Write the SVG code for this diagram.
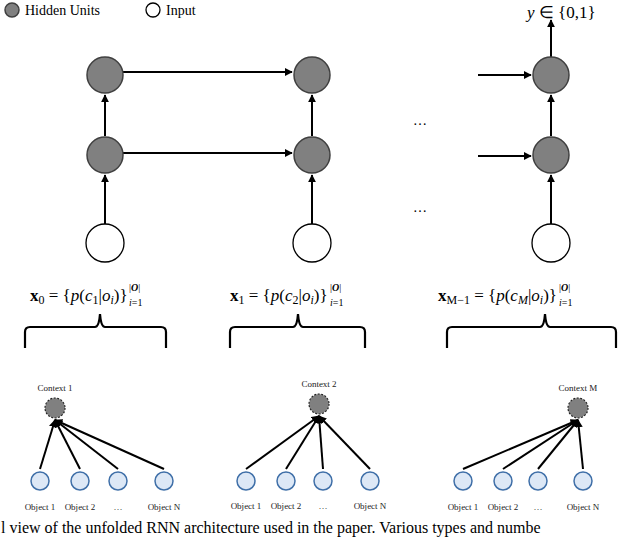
<svg xmlns="http://www.w3.org/2000/svg" width="640" height="537" viewBox="0 0 640 537">
<style>
.h{fill:#808080;stroke:#404040;stroke-width:1.5}
.i{fill:#fff;stroke:#000;stroke-width:1.3}
.c{fill:#808080;stroke:#222;stroke-width:1.2;stroke-dasharray:2 1.5}
.o{fill:#dde8f6;stroke:#3f6fa8;stroke-width:1.5}
.e{stroke:#000;stroke-width:2;fill:none}
.b{stroke:#000;stroke-width:2.2;fill:none}
.l{font-family:"Liberation Serif",serif;font-size:9px;fill:#222;text-anchor:middle}
.t{font-family:"Liberation Serif",serif;font-size:14px;fill:#000}
.f{font-family:"Liberation Serif",serif;font-size:17px;fill:#000}
.s{font-size:12px}
.q{font-family:"Liberation Serif",serif;font-size:10px;fill:#000}
</style>
<defs><marker id="a" viewBox="0 0 10 10" refX="9" refY="5" markerWidth="4" markerHeight="4" orient="auto"><path d="M0,0L10,5L0,10z" fill="#000"/></marker></defs>
<g id="legend">
<circle class="h" cx="12" cy="10" r="7"/><text class="t" x="25" y="15">Hidden Units</text>
<circle class="i" cx="153" cy="10" r="7"/><text class="t" x="166" y="15">Input</text>
</g>
<g id="edges">
<path class="e" marker-end="url(#a)" d="M105,224V175"/>
<path class="e" marker-end="url(#a)" d="M105,136V95"/>
<path class="e" marker-end="url(#a)" d="M312,224V175"/>
<path class="e" marker-end="url(#a)" d="M312,136V95"/>
<path class="e" marker-end="url(#a)" d="M551,224V175"/>
<path class="e" marker-end="url(#a)" d="M551,136V95"/>
<path class="e" marker-end="url(#a)" d="M551,57V20"/>
<path class="e" marker-end="url(#a)" d="M123,72H292"/>
<path class="e" marker-end="url(#a)" d="M123,153H292"/>
<path class="e" marker-end="url(#a)" d="M478,75H531"/>
<path class="e" marker-end="url(#a)" d="M478,156H531"/>
<path class="e" marker-end="url(#a)" d="M40,469L55,420"/><path class="e" marker-end="url(#a)" d="M80,469L55,420"/><path class="e" marker-end="url(#a)" d="M118,469L55,420"/><path class="e" marker-end="url(#a)" d="M164,469L55,420"/>
<path class="e" marker-end="url(#a)" d="M246,469L319,416"/><path class="e" marker-end="url(#a)" d="M286,469L319,416"/><path class="e" marker-end="url(#a)" d="M323,469L319,416"/><path class="e" marker-end="url(#a)" d="M370,469L319,416"/>
<path class="e" marker-end="url(#a)" d="M463,469L578,420"/><path class="e" marker-end="url(#a)" d="M503,469L578,420"/><path class="e" marker-end="url(#a)" d="M538,469L578,420"/><path class="e" marker-end="url(#a)" d="M583,469L578,420"/>
</g>
<g id="rnn">
<circle class="h" cx="105" cy="75" r="18"/><circle class="h" cx="105" cy="155" r="18"/><circle class="i" cx="105" cy="243" r="19"/>
<circle class="h" cx="312" cy="75" r="18"/><circle class="h" cx="312" cy="155" r="18"/><circle class="i" cx="312" cy="243" r="19"/>
<circle class="h" cx="551" cy="75" r="18"/><circle class="h" cx="551" cy="155" r="18"/><circle class="i" cx="551" cy="243" r="19"/>
<text class="t" x="413" y="125">…</text><text class="t" x="413" y="212">…</text>
<text class="f" x="527" y="18"><tspan font-style="italic">y</tspan> ∈ {0,1}</text>
</g>
<g id="formulas">
<text class="f" x="30" y="301"><tspan font-weight="bold">x</tspan><tspan class="s" dy="3">0</tspan><tspan dy="-3"> = {</tspan><tspan font-style="italic">p</tspan>(<tspan font-style="italic">c</tspan><tspan class="s" dy="3">1</tspan><tspan dy="-3">|</tspan><tspan font-style="italic">o</tspan><tspan class="s" dy="3" font-style="italic">i</tspan><tspan dy="-3">)}</tspan></text>
<text class="q" x="129" y="291">|<tspan font-weight="bold" font-style="italic">O</tspan>|</text><text class="q" x="129" y="306"><tspan font-style="italic">i</tspan>=1</text>
<text class="f" x="230" y="301"><tspan font-weight="bold">x</tspan><tspan class="s" dy="3">1</tspan><tspan dy="-3"> = {</tspan><tspan font-style="italic">p</tspan>(<tspan font-style="italic">c</tspan><tspan class="s" dy="3">2</tspan><tspan dy="-3">|</tspan><tspan font-style="italic">o</tspan><tspan class="s" dy="3" font-style="italic">i</tspan><tspan dy="-3">)}</tspan></text>
<text class="q" x="330" y="291">|<tspan font-weight="bold" font-style="italic">O</tspan>|</text><text class="q" x="330" y="306"><tspan font-style="italic">i</tspan>=1</text>
<text class="f" x="438" y="301"><tspan font-weight="bold">x</tspan><tspan class="s" dy="3">M−1</tspan><tspan dy="-3"> = {</tspan><tspan font-style="italic">p</tspan>(<tspan font-style="italic">c</tspan><tspan class="s" dy="3" font-style="italic">M</tspan><tspan dy="-3">|</tspan><tspan font-style="italic">o</tspan><tspan class="s" dy="3" font-style="italic">i</tspan><tspan dy="-3">)}</tspan></text>
<text class="q" x="559" y="291">|<tspan font-weight="bold" font-style="italic">O</tspan>|</text><text class="q" x="559" y="306"><tspan font-style="italic">i</tspan>=1</text>
</g>
<g id="braces">
<path class="b" d="M25,348V332Q25,327 30,327H95Q99,327 100,314Q101,327 105,327H161Q166,327 166,332V348"/>
<path class="b" d="M230,348V332Q230,327 235,327H293Q297,327 298,314Q299,327 303,327H360Q365,327 365,332V348"/>
<path class="b" d="M447,348V332Q447,327 452,327H540Q544,327 545,314Q546,327 550,327H611Q616,327 616,332V348"/>
</g>
<g id="ctx1"><circle class="c" cx="55" cy="408" r="10"/><text class="l" x="55" y="391">Context 1</text>
<circle class="o" cx="40" cy="481" r="9"/><circle class="o" cx="80" cy="481" r="9"/><circle class="o" cx="118" cy="481" r="9"/><circle class="o" cx="164" cy="481" r="9"/>
<text class="l" x="40" y="510">Object 1</text><text class="l" x="80" y="510">Object 2</text><text class="l" x="118" y="510">…</text><text class="l" x="164" y="510">Object N</text></g>
<g id="ctx2"><circle class="c" cx="319" cy="404" r="10"/><text class="l" x="319" y="387">Context 2</text>
<circle class="o" cx="246" cy="481" r="9"/><circle class="o" cx="286" cy="481" r="9"/><circle class="o" cx="323" cy="481" r="9"/><circle class="o" cx="370" cy="481" r="9"/>
<text class="l" x="246" y="509">Object 1</text><text class="l" x="286" y="509">Object 2</text><text class="l" x="323" y="509">…</text><text class="l" x="370" y="509">Object N</text></g>
<g id="ctxM"><circle class="c" cx="578" cy="408" r="10"/><text class="l" x="578" y="391">Context M</text>
<circle class="o" cx="463" cy="481" r="9"/><circle class="o" cx="503" cy="481" r="9"/><circle class="o" cx="538" cy="481" r="9"/><circle class="o" cx="583" cy="481" r="9"/>
<text class="l" x="463" y="510">Object 1</text><text class="l" x="503" y="510">Object 2</text><text class="l" x="538" y="510">…</text><text class="l" x="583" y="510">Object N</text></g>
<text x="1" y="533" font-family="Liberation Serif,serif" font-size="16" fill="#000">l view of the unfolded RNN architecture used in the paper. Various types and numbe</text>
</svg>
